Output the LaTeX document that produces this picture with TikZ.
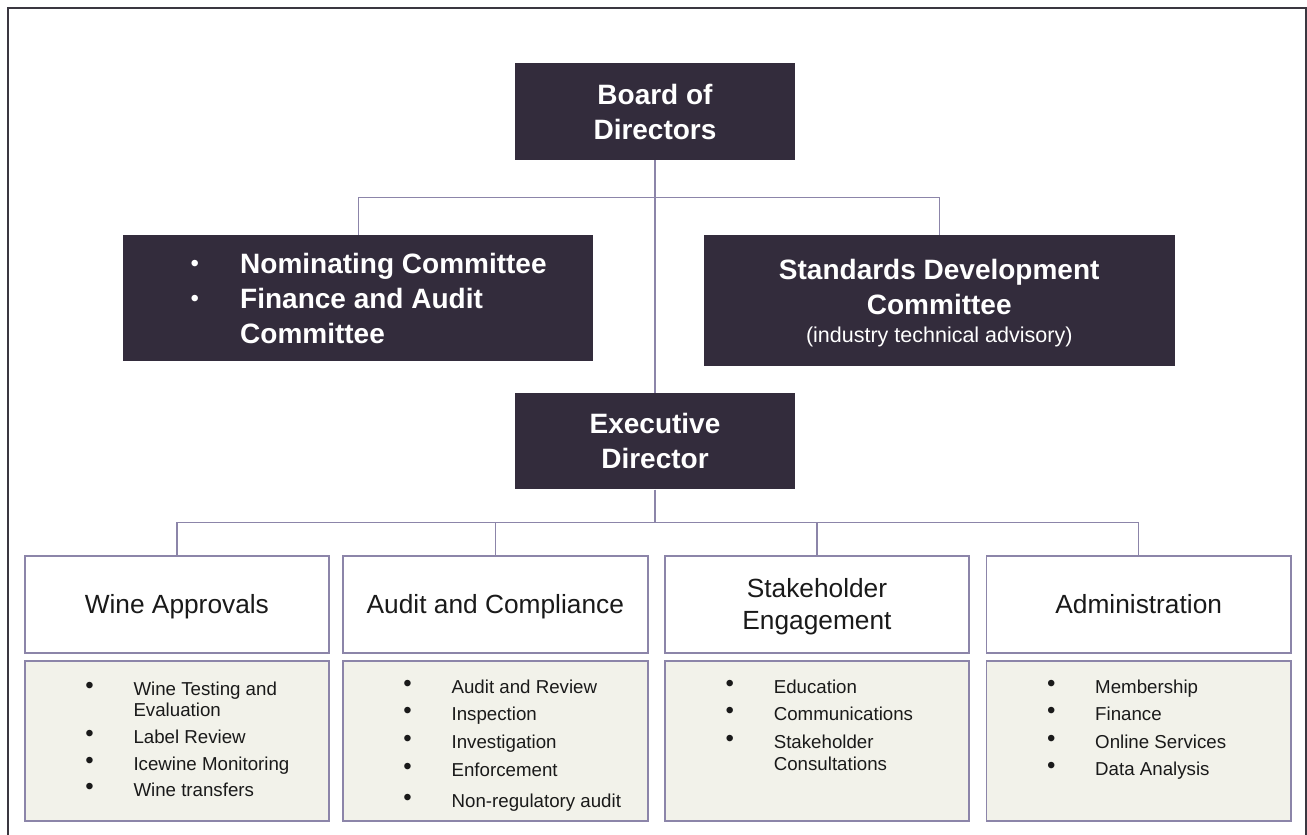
\documentclass[tikz,border=0pt]{standalone}
\usepackage{fontspec}
\setmainfont{Liberation Sans}
\definecolor{dk}{HTML}{332C3C}
\definecolor{ln}{HTML}{8C85A9}
\definecolor{lf}{HTML}{F2F2EA}
\definecolor{fr}{HTML}{3A3740}
\definecolor{tx}{HTML}{1A1A1A}
\newcommand\bul{\makebox[20pt][c]{\raisebox{2pt}{\fontsize{24}{24}\selectfont •}}}
\newcommand\cbul{\makebox[20pt][c]{\raisebox{1.5pt}{\mdseries\fontsize{24}{24}\selectfont •}}}
\begin{document}
\begin{tikzpicture}[x=1pt,y=-1pt,
 darkbox/.style={fill=dk, draw=none, inner sep=0pt},
 deptbox/.style={draw=ln, line width=1.8pt, fill=white, inner sep=0pt, minimum width=304.5pt, minimum height=96.7pt},
 listbox/.style={draw=ln, line width=1.8pt, fill=lf, inner sep=0pt, minimum width=304.5pt, minimum height=159.7pt},
 conn/.style={draw=ln, line width=1.3pt},
 wtxt/.style={text=white, font=\fontsize{28}{35}\selectfont\bfseries, inner sep=0pt, anchor=base},
 ttl/.style={text=tx, font=\fontsize{26.3}{32}\selectfont, inner sep=0pt, anchor=base},
 lst/.style={text=tx, font=\fontsize{18.7}{21.7}\selectfont, inner sep=0pt, anchor=base west},
]
\useasboundingbox[fill=white] (0,0) rectangle (1307,835);
\draw[fr, line width=2.2pt, line join=miter] (8,845) -- (8,8.3) -- (1305.8,8.3) -- (1305.8,845);

% top level
\node[darkbox, minimum width=280pt, minimum height=97.3pt] (board) at (655,111.35) {};
\node[wtxt] (boardt) at (655,104) {\begin{tabular}[t]{@{}c@{}}Board of\\Directors\end{tabular}};

\node[darkbox, minimum width=470.4pt, minimum height=125.7pt] (ncom) at (358.2,297.85) {};
\node[wtxt, anchor=base west] (ncomt) at (184.7,273.3) {\begin{tabular}[t]{@{}l@{\hspace{35.3pt}}l@{}}\cbul & Nominating Committee\\ \cbul & Finance and Audit\\ & Committee\end{tabular}};

\node[darkbox, minimum width=470.5pt, minimum height=130.7pt] (scom) at (939.25,300.35) {};
\node[wtxt] (scomt) at (939.25,279.3) {\begin{tabular}[t]{@{}c@{}}Standards Development\\Committee\end{tabular}};
\node[wtxt, font=\fontsize{21.5}{26}\selectfont] (scoms) at (939.25,342.7) {(industry technical advisory)};

\node[darkbox, minimum width=280pt, minimum height=96pt] (exec) at (655,441.3) {};
\node[wtxt] (exect) at (655,433) {\begin{tabular}[t]{@{}c@{}}Executive\\Director\end{tabular}};

% departments
\node[deptbox] (wa) at (176.85,604.35) {};
\node[ttl] (wat) at (176.85,613.3) {Wine Approvals};
\node[deptbox] (ac) at (495.35,604.35) {};
\node[ttl] (act) at (495.35,613.3) {Audit and Compliance};
\node[deptbox] (se) at (816.95,604.35) {};
\node[ttl] (sett) at (816.95,597.3) {\begin{tabular}[t]{@{}c@{}}Stakeholder\\Engagement\end{tabular}};
\node[deptbox] (ad) at (1138.7,604.35) {};
\node[ttl] (adt) at (1138.7,613.3) {Administration};

% lists
\node[listbox] (wab) at (176.85,740.85) {};
\node[listbox] (acb) at (495.35,740.85) {};
\node[listbox] (seb) at (816.95,740.85) {};
\node[listbox] (adb) at (1138.7,740.85) {};

\node[lst] (wal) at (79.3,695) {\begin{tabular}[t]{@{}l@{\hspace{34pt}}l@{}}
\bul & Wine Testing and\\
 & Evaluation\\[4.9pt]
\bul & Label Review\\[5pt]
\bul & Icewine Monitoring\\[5pt]
\bul & Wine transfers
\end{tabular}};
\node[lst] (acl) at (397.4,693.3) {\begin{tabular}[t]{@{}l@{\hspace{34pt}}l@{}}
\bul & Audit and Review\\[5.7pt]
\bul & Inspection\\[5.9pt]
\bul & Investigation\\[6.7pt]
\bul & Enforcement\\[8.9pt]
\bul & Non-regulatory audit
\end{tabular}};
\node[lst] (sel) at (719.6,693.3) {\begin{tabular}[t]{@{}l@{\hspace{34pt}}l@{}}
\bul & Education\\[5.7pt]
\bul & Communications\\[5.9pt]
\bul & Stakeholder\\[0.7pt]
 & Consultations
\end{tabular}};
\node[lst] (adl) at (1041,693.3) {\begin{tabular}[t]{@{}l@{\hspace{34pt}}l@{}}
\bul & Membership\\[5.7pt]
\bul & Finance\\[5.6pt]
\bul & Online Services\\[5.3pt]
\bul & Data Analysis
\end{tabular}};

% connectors
\coordinate (j1) at (655,197.3);
\coordinate (j2) at (655,522.7);
\draw[conn] (board.south) -- (exec.north);
\draw[conn] (ncom.north) |- (j1) -| (scom.north);
\draw[conn] (exec.south) -- (j2);
\draw[conn] (wa.north) |- (j2) -| (ad.north);
\draw[conn] (ac.north) |- (j2);
\draw[conn] (se.north) |- (j2);
\end{tikzpicture}
\end{document}
